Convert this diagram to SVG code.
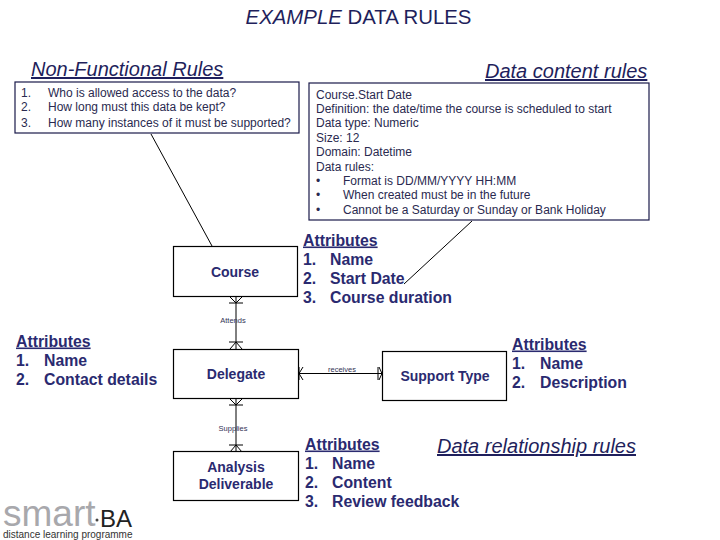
<svg xmlns="http://www.w3.org/2000/svg" width="720" height="540" viewBox="0 0 720 540">
<style>
text{font-family:"Liberation Sans",Arial,sans-serif;fill:#1f1f5c}
.h{font-size:20px;font-style:italic;text-decoration:underline}
.s{font-size:12px;fill:#2a2a50}
.a{font-size:15.800px;font-weight:bold;fill:#2a2a70}
.n{font-size:14px;font-weight:bold;text-anchor:middle;fill:#2a2a70}
.l{font-size:7.5px;text-anchor:middle;fill:#333355}
.box{fill:#fff;stroke:#000;stroke-width:1.2}
.note{fill:#fff;stroke:#1a1a4a;stroke-width:1.2}
.c{fill:none;stroke:#000;stroke-width:1}
</style>
<rect width="720" height="540" fill="#fff"/>
<text x="358.500" y="23.500" text-anchor="middle" style="font-size:20.400px;fill:#1f1f5c"><tspan font-style="italic">EXAMPLE</tspan> DATA RULES</text>
<text class="h" x="31" y="76">Non-Functional Rules</text>
<text class="h" x="485" y="78">Data content rules</text>
<g id="connectors">
<path class="c" d="M151 134L212 246"/>
<path class="c" d="M472 221L404 284"/>
<path class="c" d="M236 297V349M230 297L236 303L242 297M229 303H243M230 349L236 342L242 349M229 342H243"/>
<path class="c" d="M236 399V452M230 399L236 405L242 399M229 405H243M230 452L236 445L242 452M229 445H243"/>
<path class="c" d="M299 373.500H382M299 367V380M303 367L299 373.500L303 380M379 367L382 373.500L379 380M378 367V380"/>
</g>
<g id="non-functional-rules">
<rect class="note" x="15" y="82" width="284" height="51"/>
<text class="s"><tspan x="21" y="97">1.</tspan><tspan x="48" y="97">Who is allowed access to the data?</tspan><tspan x="21" y="111">2.</tspan><tspan x="48" y="111">How long must this data be kept?</tspan><tspan x="21" y="127">3.</tspan><tspan x="48" y="127">How many instances of it must be supported?</tspan></text>
</g>
<g id="data-content-rules">
<rect class="note" x="309" y="83" width="340" height="137"/>
<text class="s"><tspan x="316" y="99">Course.Start Date</tspan><tspan x="316" y="113">Definition: the date/time the course is scheduled to start</tspan><tspan x="316" y="127">Data type: Numeric</tspan><tspan x="316" y="142">Size: 12</tspan><tspan x="316" y="156">Domain: Datetime</tspan><tspan x="316" y="171">Data rules:</tspan><tspan x="316" y="185">•</tspan><tspan x="343" y="185">Format is DD/MM/YYYY HH:MM</tspan><tspan x="316" y="199">•</tspan><tspan x="343" y="199">When created must be in the future</tspan><tspan x="316" y="214">•</tspan><tspan x="343" y="214">Cannot be a Saturday or Sunday or Bank Holiday</tspan></text>
</g>
<g id="course">
<rect class="box" x="173.500" y="246.500" width="124" height="50"/>
<text class="n" x="235" y="277">Course</text>
</g>
<g id="delegate">
<rect class="box" x="173.500" y="349.500" width="125" height="49"/>
<text class="n" x="236" y="379">Delegate</text>
</g>
<g id="support-type">
<rect class="box" x="382.500" y="351.500" width="124" height="49"/>
<text class="n" x="445" y="381">Support Type</text>
</g>
<g id="analysis-deliverable">
<rect class="box" x="173.500" y="451.500" width="125" height="49"/>
<text class="n"><tspan x="236" y="472">Analysis</tspan><tspan x="236" y="489">Deliverable</tspan></text>
</g>
<text class="l" x="233" y="323">Attends</text>
<text class="l" x="233" y="431">Supplies</text>
<text class="l" x="342" y="372">receives</text>
<g>
<text class="a"><tspan x="303" y="245.500" text-decoration="underline">Attributes</tspan><tspan x="303" y="264.500">1.</tspan><tspan x="330" y="264.500">Name</tspan><tspan x="303" y="283.500">2.</tspan><tspan x="330" y="283.500">Start Date</tspan><tspan x="303" y="302.500">3.</tspan><tspan x="330" y="302.500">Course duration</tspan></text>
<text class="a"><tspan x="16" y="346.500" text-decoration="underline">Attributes</tspan><tspan x="16" y="365.500">1.</tspan><tspan x="44" y="365.500">Name</tspan><tspan x="16" y="384.500">2.</tspan><tspan x="44" y="384.500">Contact details</tspan></text>
<text class="a"><tspan x="512" y="349.500" text-decoration="underline">Attributes</tspan><tspan x="512" y="368.500">1.</tspan><tspan x="540" y="368.500">Name</tspan><tspan x="512" y="387.500">2.</tspan><tspan x="540" y="387.500">Description</tspan></text>
<text class="a"><tspan x="305" y="449.500" text-decoration="underline">Attributes</tspan><tspan x="305" y="468.500">1.</tspan><tspan x="332" y="468.500">Name</tspan><tspan x="305" y="487.500">2.</tspan><tspan x="332" y="487.500">Content</tspan><tspan x="305" y="506.500">3.</tspan><tspan x="332" y="506.500">Review feedback</tspan></text>
</g>
<text class="h" x="437" y="453">Data relationship rules</text>
<g id="logo">
<text x="3" y="526" style="font-size:37px;fill:#a8a8ac">smart</text>
<circle cx="97" cy="520" r="1.500" fill="#444"/>
<text x="100" y="527" style="font-size:24px;fill:#222">BA</text>
<text x="3" y="538" style="font-size:10px;fill:#333">distance learning programme</text>
</g>
</svg>
